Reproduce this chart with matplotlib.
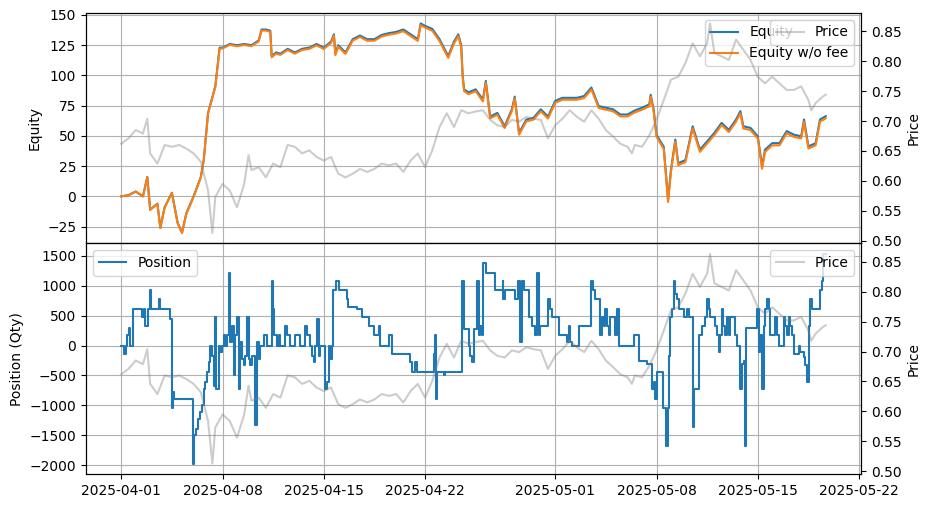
import pandas as pd
import matplotlib
matplotlib.use('Agg')
import matplotlib.pyplot as plt

start = pd.Timestamp('2025-04-01')

# price (days since 2025-04-01)
price_days = [0.0, 0.5, 1.0, 1.5, 1.8, 2.0, 2.5, 3.0, 3.5, 4.0, 4.5, 5.0, 5.5, 6.0, 6.3, 6.5,
              7.0, 7.5, 8.0, 8.5, 8.8, 9.0, 9.5, 10.0, 10.5, 11.0, 11.5, 12.0, 12.5, 13.0,
              13.5, 14.0, 14.5, 15.0, 15.5, 16.0, 16.5, 17.0, 17.5, 18.0, 18.5, 19.0, 19.5,
              20.0, 20.5, 21.0, 21.5, 22.0, 22.5, 23.0, 23.5, 24.0, 24.5, 25.0, 25.5, 26.0,
              26.5, 27.0, 27.5, 28.0, 28.5, 29.0, 29.5, 30.0, 30.5, 31.0, 31.5, 32.0, 32.5,
              33.0, 33.5, 34.0, 34.5, 35.0, 35.3, 35.5, 36.0, 36.5, 37.0, 37.5, 38.0, 38.5,
              39.0, 39.5, 40.0, 40.5, 40.7, 41.0, 41.5, 42.0, 42.5, 43.0, 43.5, 44.0, 44.5,
              45.0, 45.5, 46.0, 46.5, 47.0, 47.5, 47.7, 48.0, 48.5, 48.7]
price = [0.662, 0.671, 0.685, 0.679, 0.704, 0.646, 0.629, 0.660, 0.657, 0.660, 0.654, 0.646,
         0.632, 0.584, 0.513, 0.573, 0.595, 0.584, 0.556, 0.595, 0.643, 0.618, 0.623, 0.606,
         0.629, 0.623, 0.660, 0.657, 0.646, 0.651, 0.640, 0.634, 0.640, 0.612, 0.606, 0.612,
         0.620, 0.615, 0.620, 0.629, 0.626, 0.629, 0.615, 0.634, 0.646, 0.623, 0.651, 0.690,
         0.713, 0.690, 0.718, 0.713, 0.716, 0.718, 0.702, 0.693, 0.690, 0.702, 0.699, 0.707,
         0.704, 0.702, 0.671, 0.693, 0.704, 0.718, 0.707, 0.699, 0.718, 0.704, 0.685, 0.674,
         0.662, 0.657, 0.646, 0.660, 0.657, 0.676, 0.702, 0.735, 0.769, 0.774, 0.797, 0.830,
         0.808, 0.830, 0.863, 0.814, 0.808, 0.802, 0.836, 0.819, 0.802, 0.774, 0.763, 0.774,
         0.763, 0.752, 0.752, 0.758, 0.735, 0.718, 0.730, 0.741, 0.744]

eq_days = [0.0, 0.5, 1.0, 1.5, 1.8, 2.0, 2.5, 2.7, 3.0, 3.5, 3.9, 4.2, 4.5, 5.0, 5.5, 5.7,
           6.0, 6.5, 6.8, 7.0, 7.5, 8.0, 8.5, 9.0, 9.5, 9.7, 10.0, 10.3, 10.4, 10.7, 11.0,
           11.5, 12.0, 12.5, 13.0, 13.5, 14.0, 14.5, 14.7, 14.8, 15.0, 15.5, 16.0, 16.5,
           17.0, 17.5, 18.0, 18.5, 19.0, 19.5, 20.0, 20.5, 20.7, 21.0, 21.5, 22.0, 22.6,
           23.0, 23.3, 23.5, 23.6, 23.7, 24.0, 24.5, 25.0, 25.2, 25.5, 26.0, 26.5, 27.0,
           27.2, 27.5, 28.0, 28.5, 29.0, 29.5, 30.0, 30.5, 31.0, 31.5, 32.0, 32.5, 33.0,
           33.5, 34.0, 34.5, 35.0, 35.5, 36.0, 36.5, 36.6, 36.8, 37.0, 37.5, 37.8, 38.0,
           38.3, 38.5, 39.0, 39.5, 40.0, 40.5, 41.0, 41.5, 42.0, 42.5, 42.8, 43.0, 43.5,
           44.0, 44.3, 44.5, 45.0, 45.5, 46.0, 46.5, 47.0, 47.2, 47.5, 48.0, 48.3, 48.7]
equity = [0, 1, 4, 0, 16, -11, -6, -26, -9, 3, -22, -30, -14, 0, 16, 30,
          69, 91, 123, 123, 126, 125, 126, 125, 129, 138, 138, 137, 116, 119, 118,
          122, 119, 122, 123, 126, 123, 128, 134, 118, 125, 119, 130, 133,
          130, 130, 133.5, 135, 136, 138, 134, 130, 143, 141, 138.5, 130, 116,
          128, 134, 125, 100, 88.5, 86, 88.5, 80, 95.5, 66, 69, 58, 72,
          82.5, 52.5, 63.5, 65, 72, 66, 79, 81.5, 81.5, 81.5, 83, 90, 74.7,
          73.3, 72, 67.7, 67.7, 71, 73.3, 76, 84, 72, 51, 41, -3, 22,
          47, 27.5, 30, 58, 38.6, 45.5, 52.5, 60.8, 55, 63.6, 70.5, 58, 56.6,
          49.7, 24.7, 38.6, 44, 44, 54, 51, 49.7, 63.6, 41.3, 44, 63.6, 66.3]
equity_nofee = [0, 1, 4, 0, 15.8, -11.2, -6.2, -26.2, -9.3, 2.7, -22.3, -30.3, -14.4, -0.4, 15.5, 29.5,
                68.4, 90.4, 122.3, 122.3, 125.3, 124.2, 125.2, 124.2, 128.1, 137.1, 137.1, 136.1, 115, 118, 117,
                121, 118, 121, 122, 124.9, 121.9, 126.9, 132.9, 116.8, 123.8, 117.8, 128.8, 131.8,
                128.7, 128.7, 132.2, 133.7, 134.7, 136.6, 132.6, 128.6, 141.6, 139.6, 137, 128.5, 114.5,
                126.5, 132.5, 123.5, 98.5, 87, 84.5, 87, 78.5, 94, 64.5, 67.5, 56.5, 70.5,
                81, 51, 62, 63.5, 70.4, 64.4, 77.4, 79.9, 79.9, 79.9, 81.4, 88.4, 73.1,
                71.7, 70.4, 66.1, 66.1, 69.4, 71.7, 74.4, 82.4, 70.4, 49.3, 39.3, -4.7, 20.3,
                45.3, 25.8, 28.3, 56.2, 36.8, 43.7, 50.7, 59, 53.2, 61.8, 68.7, 56.2, 54.8,
                47.9, 22.9, 36.8, 42.2, 42.2, 52.2, 49.2, 47.9, 61.8, 39.5, 42.2, 61.8, 64.5]

pos_days = [0.00, 0.16, 0.35, 0.39, 0.51, 0.62, 0.81, 1.43, 1.54, 1.66, 1.82, 1.96, 2.05,
            2.63, 2.70, 3.34, 3.50, 3.57, 3.62, 4.93, 5.05, 5.18, 5.28, 5.46, 5.58, 5.69,
            5.81, 5.92, 6.04, 6.15, 6.27, 6.38, 6.50, 6.57, 6.73, 6.84, 6.96, 7.07, 7.19,
            7.30, 7.42, 7.49, 7.65, 7.76, 7.88, 8.00, 8.11, 8.23, 8.34, 8.46, 8.57, 8.69,
            8.80, 8.92, 9.03, 9.26, 9.38, 9.49, 9.61, 9.84, 10.07, 10.41, 10.48, 10.58,
            10.76, 10.88, 10.99, 11.34, 11.45, 11.68, 12.03, 12.37, 12.72, 12.83, 13.06,
            13.18, 13.29, 13.41, 13.53, 13.64, 13.76, 14.10, 14.22, 14.33, 14.45, 14.56,
            14.63, 14.86, 15.02, 15.60, 15.65, 16.29, 16.64, 17.10, 17.44, 17.79, 17.86,
            18.48, 18.71, 19.98, 20.09, 20.32, 20.44, 21.59, 21.71, 21.77, 21.82, 22.28,
            22.40, 23.55, 23.66, 24.01, 24.12, 24.24, 24.40, 24.59, 24.70, 24.82, 24.93,
            25.00, 25.23, 25.85, 26.38, 26.42, 26.54, 27.23, 27.46, 27.58, 27.70, 27.81,
            28.16, 28.39, 28.62, 28.73, 28.85, 28.96, 29.47, 29.65, 29.77, 30.23, 30.81,
            30.92, 31.04, 31.15, 31.61, 32.49, 32.60, 32.76, 33.11, 33.23, 33.35, 33.46,
            33.58, 33.69, 33.81, 34.14, 34.26, 34.38, 35.41, 35.76, 36.34, 36.68, 36.80,
            36.91, 37.03, 37.44, 37.67, 37.76, 37.83, 37.95, 38.06, 38.18, 38.29, 38.41,
            38.53, 38.87, 39.10, 39.22, 39.49, 39.56, 39.91, 40.14, 40.37, 40.48, 40.60,
            40.71, 41.06, 41.17, 41.29, 41.40, 41.52, 41.63, 41.75, 41.87, 41.98, 42.10,
            42.44, 42.56, 42.79, 42.90, 43.02, 43.13, 43.20, 43.94, 44.06, 44.17, 44.29,
            44.40, 44.52, 44.63, 44.75, 44.86, 45.21, 45.32, 45.44, 45.78, 45.90, 46.01,
            46.13, 46.24, 46.36, 46.47, 46.82, 46.94, 47.17, 47.28, 47.40, 47.51, 47.58,
            47.74, 48.32, 48.43, 48.50, 48.70]
position = [0, -140, 0, 170, 300, 0, 610, 470, 610, 330, 610, 920, 610,
            780, 610, 445, -1050, -780, -890, -1970, -1500, -1390, -1220, -1110, -1000, -720,
            -610, -445, -280, 0, -170, -670, 470, -720, 0, -110, 0, 170, 0,
            170, 1220, 60, 330, -500, 170, 470, -720, 60, -220, -330, -170, 470,
            -220, -330, -170, -1330, 60, -220, 0, 170, 0, 1080, 610, 170,
            0, 170, 0, 330, 170, 0, 170, 0, 330, 170, 0,
            -170, -280, 0, 445, -170, 0, -720, -610, 0, -220, 0,
            920, 1080, 920, 780, 640, 610, 470, 330, 170, 330, 0,
            170, -140, -280, -445, -280, -445, -140, 170, -890, -445, -500,
            -445, 1080, 280, 0, -170, -280, 280, 1080, 170, 330, 170,
            1380, 1220, 920, 1080, 780, 920, 780, 1080, 60, 1080, 920,
            470, 330, 170, 1220, 170, 330, 780, 610, 470, 170, 60,
            330, 60, 0, 330, 1080, 920, 780, 170, 470, 330, 610,
            330, 170, 470, 170, 610, 0, 170, -250, -305, -720, -610,
            -890, -445, -1050, -1670, -1050, -170, 470, 610, 1080, 860, 780,
            610, 470, 610, 470, -1360, -720, 170, 330, 470, 780, 610,
            470, 330, 170, -110, 170, 610, 330, 170, 470, 170, 470,
            170, 0, -720, -305, -250, -1670, 300, 610, -110, 170, -720,
            330, 610, 780, 610, 170, 470, 170, 0, 470, 330, 170,
            470, 330, 170, -140, 0, -110, -190, -330, -610, 330, 780,
            610, 920, 1080, 1530, 1530]


def to_time(days):
    return start + pd.to_timedelta(days, unit='D')


t_price = to_time(price_days)
t_eq = to_time(eq_days)
t_pos = to_time(pos_days)

fig, (ax1, ax3) = plt.subplots(2, 1, sharex=True, figsize=(9.31, 5.09), dpi=100)
fig.subplots_adjust(left=0.0924, right=0.9248, top=0.9745, bottom=0.0688, hspace=0)

# top: equity + price
ax1.plot(t_eq, equity, label='Equity')
ax1.plot(t_eq, equity_nofee, label='Equity w/o fee')
ax1.set_ylabel('Equity')
ax1.grid(True)
ax1.legend(loc='upper right')
ax2 = ax1.twinx()
ax2.plot(t_price, price, color='gray', alpha=0.4, label='Price')
ax2.set_ylabel('Price')
ax2.legend(loc='upper right')

# bottom: position + price
ax3.plot(t_pos, position, drawstyle='steps-post', label='Position')
ax3.set_ylabel('Position (Qty)')
ax3.grid(True)
ax3.legend(loc='upper left')
ax4 = ax3.twinx()
ax4.plot(t_price, price, color='gray', alpha=0.4, label='Price')
ax4.set_ylabel('Price')
ax4.legend(loc='upper right')

fig.savefig('out.png', dpi=100)
